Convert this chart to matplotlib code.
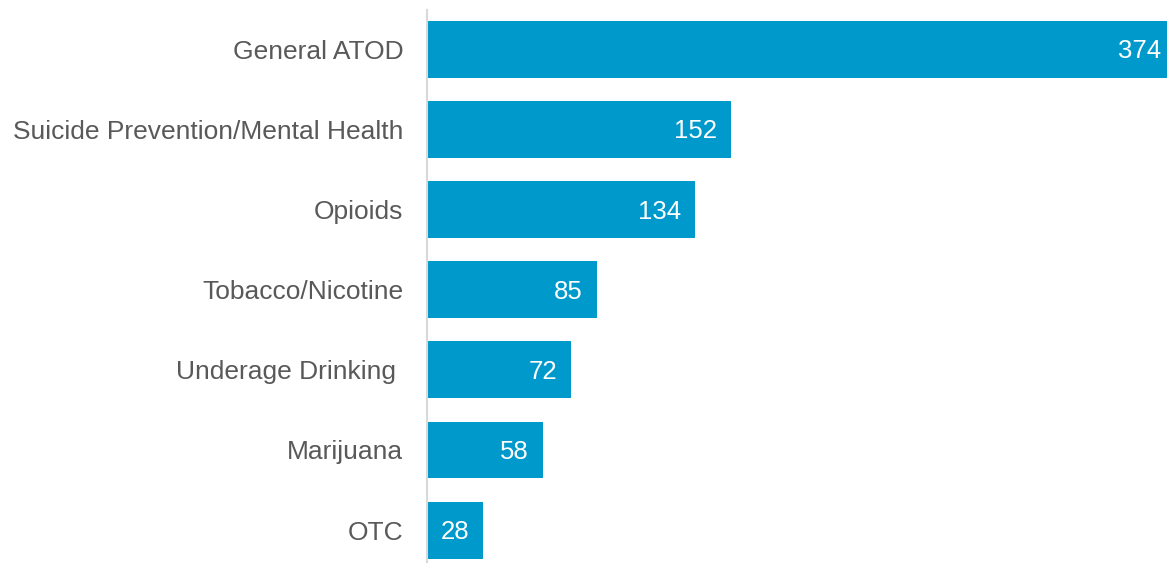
import matplotlib.pyplot as plt
from matplotlib.transforms import offset_copy

plt.rcParams['font.family'] = ['Liberation Sans', 'DejaVu Sans']

# topics and number of programs per topic
topics = ["General ATOD", "Suicide Prevention/Mental Health", "Opioids",
          "Tobacco/Nicotine", "Underage Drinking ", "Marijuana", "OTC"]
counts = [374, 152, 134, 85, 72, 58, 28]

bar_color = "#0099CC"
text_grey = "#595959"

fig = plt.figure(figsize=(11.67, 5.63), dpi=100)
ax = fig.add_axes([427 / 1167, 0, 740 / 1167, 553 / 563])

ypos = list(range(len(topics)))
ax.barh(ypos, counts, height=0.71, color=bar_color)

ax.set_xlim(0, 370)
ax.set_ylim(6.41, -0.49)

# value labels inside the end of each bar
tr = offset_copy(ax.transData, fig=fig, x=-10, y=-1.5, units="points")
for y, v in zip(ypos, counts):
    ax.text(v, y, str(v), transform=tr, ha="right", va="center",
            color="white", fontsize=18.5, clip_on=False)

ax.set_yticks(ypos)
ax.set_yticklabels(topics, fontsize=19, color=text_grey)
ax.tick_params(axis="y", length=0, pad=17)
ax.set_xticks([])

for side in ["top", "right", "bottom"]:
    ax.spines[side].set_visible(False)
ax.spines["left"].set_color("#d9d9d9")
ax.spines["left"].set_linewidth(1.5)

fig.savefig("out.png", dpi=100)
